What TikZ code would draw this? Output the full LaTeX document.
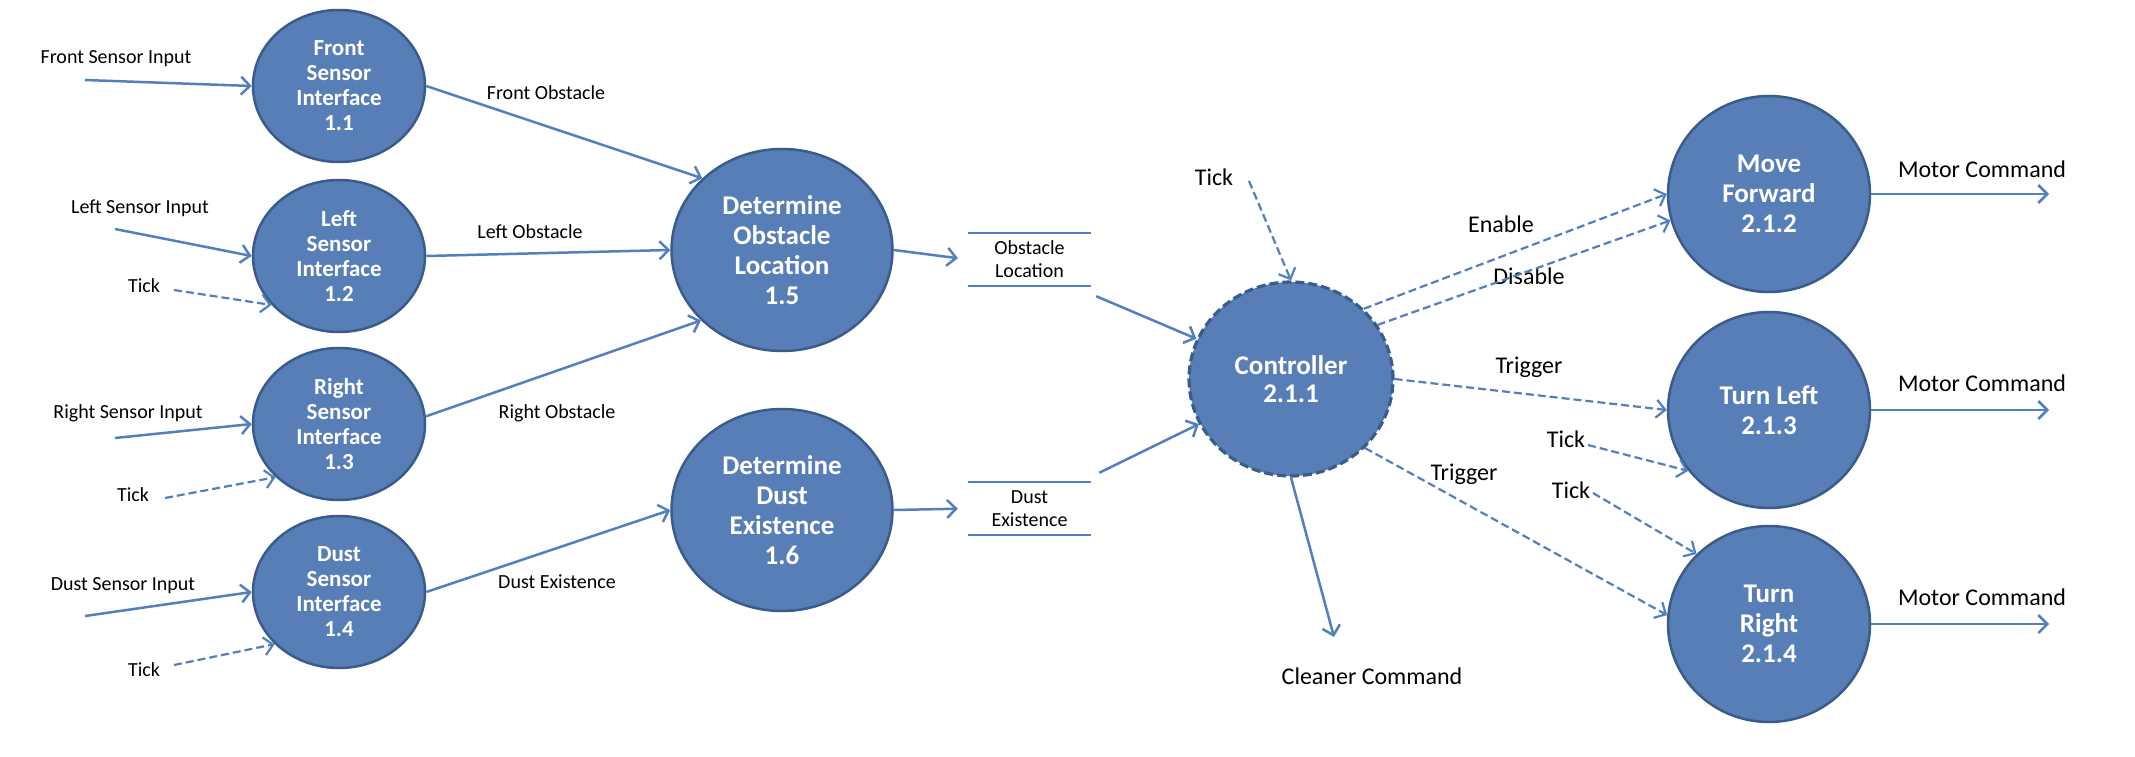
\documentclass[tikz,border=0pt]{standalone}
\usepackage{fontspec}
\setmainfont{Carlito}
\usetikzlibrary{arrows.meta,shapes.geometric}
\definecolor{nfill}{RGB}{88,126,184}
\definecolor{nborder}{RGB}{58,92,138}
\definecolor{lcol}{RGB}{82,128,190}
\begin{document}
\begin{tikzpicture}[x=1pt,y=-1pt,
 proc/.style={ellipse,draw=nborder,line width=2.5pt,fill=nfill,text=white,align=center,inner sep=0pt},
 smallp/.style={proc,minimum width=172pt,minimum height=152pt,font=\fontsize{23}{25}\selectfont\bfseries},
 bigp/.style={proc,minimum width=221pt,minimum height=202pt,font=\fontsize{27}{30}\selectfont\bfseries},
 circp/.style={proc,minimum width=202pt,minimum height=196pt,font=\fontsize{27}{30}\selectfont\bfseries},
 flow/.style={draw=lcol,line width=2.5pt,-{Straight Barb[length=9pt,width=18pt]}},
 dflow/.style={flow,line width=2.2pt,dash pattern=on 8pt off 4pt},
 lbl/.style={font=\fontsize{20}{23}\selectfont,inner sep=0pt},
 rlbl/.style={font=\fontsize{24}{27}\selectfont,inner sep=0pt},
 storebox/.style={minimum width=123pt,minimum height=53pt,inner sep=0pt,align=center,font=\fontsize{20}{23}\selectfont},
 storeline/.style={draw=lcol,line width=2.5pt}
]
\path[fill=white] (0,0) rectangle (2135,757);
\useasboundingbox (0,0) rectangle (2135,757);

% left processes
\node[smallp] (n11) at (339,86) {Front\\Sensor\\Interface\\1.1};
\node[smallp] (n12) at (339,256) {Left\\Sensor\\Interface\\1.2};
\node[smallp] (n13) at (339,424) {Right\\Sensor\\Interface\\1.3};
\node[smallp] (n14) at (339,592) {Dust\\Sensor\\Interface\\1.4};

\node[bigp] (n15) at (782,250) {Determine\\Obstacle\\Location\\1.5};
\node[bigp] (n16) at (782,510) {Determine\\Dust\\Existence\\1.6};

% data stores
\node[storebox] (s1) at (1029.5,259.5) {Obstacle\\Location};
\draw[storeline] (s1.north west) -- (s1.north east) (s1.south west) -- (s1.south east);
\node[storebox] (s2) at (1029.5,508.5) {Dust\\Existence};
\draw[storeline] (s2.north west) -- (s2.north east) (s2.south west) -- (s2.south east);

% controller and right processes
\node[proc,minimum width=204pt,minimum height=194pt,font=\fontsize{27}{28}\selectfont\bfseries,dash pattern=on 9pt off 4pt,line width=3.2pt] (ctrl) at (1291,379) {Controller\\2.1.1};
\node[circp] (mf) at (1769,194) {Move\\Forward\\2.1.2};
\node[circp] (tl) at (1769,410) {Turn Left\\2.1.3};
\node[circp] (tr) at (1769,624) {Turn\\Right\\2.1.4};

% free ends
\coordinate (fsi) at (85,80);
\coordinate (lsi) at (115,229);
\coordinate (rsi) at (115,438);
\coordinate (dsi) at (85,616);
\coordinate (t12) at (174,290);
\coordinate (t13) at (165,498);
\coordinate (t14) at (174,665);
\coordinate (tc) at (1249,181);
\coordinate (cc) at (1334,637);
\coordinate (ttl) at (1588,445);
\coordinate (ttr) at (1593,493);
\coordinate (m1) at (2049,194);
\coordinate (m2) at (2049,410);
\coordinate (m3) at (2049,624);

% labels
\node[lbl] (lfsi) at (116,59) {Front Sensor Input};
\node[lbl] (llsi) at (140,208) {Left Sensor Input};
\node[lbl] (lt12) at (144,286) {Tick};
\node[lbl] (lrsi) at (128,413) {Right Sensor Input};
\node[lbl] (lt13) at (133,495) {Tick};
\node[lbl] (ldsi) at (123,586) {Dust Sensor Input};
\node[lbl] (lt14) at (144,670) {Tick};
\node[lbl] (lfo) at (546,93) {Front Obstacle};
\node[lbl] (llo) at (530,232) {Left Obstacle};
\node[lbl] (lro) at (557,413) {Right Obstacle};
\node[lbl] (lde) at (557,582) {Dust Existence};
\node[rlbl] (ltc) at (1214,177) {Tick};
\node[rlbl] (len) at (1501,224) {Enable};
\node[rlbl] (ldis) at (1529,276) {Disable};
\node[rlbl] (ltr1) at (1529,367) {Trigger};
\node[rlbl] (lttl) at (1566,439) {Tick};
\node[rlbl] (ltr2) at (1464,474) {Trigger};
\node[rlbl] (lttr) at (1571,490) {Tick};
\node[rlbl] (lcc) at (1372,676) {Cleaner Command};
\node[rlbl] (lm1) at (1982,169) {Motor Command};
\node[rlbl] (lm2) at (1982,383) {Motor Command};
\node[rlbl] (lm3) at (1982,597) {Motor Command};

% connectors left
\draw[flow] (fsi) -- (n11.west);
\draw[flow] (lsi) -- (n12.west);
\draw[flow] (rsi) -- (n13.west);
\draw[flow] (dsi) -- (n14.west);
\draw[dflow] (t12) -- (n12.216);
\draw[dflow] (t13) -- (n13.220);
\draw[dflow] (t14) -- (n14.219);
\draw[flow] (n11.east) -- (n15.138);
\draw[flow] (n12.east) -- (n15.west);
\draw[flow] (n13.5) -- (n15.221);
\draw[flow] (n14.east) -- (n16.west);
\draw[flow,shorten >=10pt] (n15.east) -- (s1.west);
\draw[flow,shorten >=10pt] (n16.east) -- (s2.west);
\draw[flow] ([shift={(5,10)}]s1.south east) -- (ctrl);
\draw[flow] ([shift={(8,-9)}]s2.north east) -- (ctrl);

% connectors right
\draw[dflow] (tc) -- (ctrl.north);
\draw[flow] (ctrl.south) -- (cc);
\draw[dflow] (ctrl.44) -- (mf.west);
\draw[dflow] (ctrl.32) -- (mf.195);
\draw[dflow] (ctrl.east) -- (tl.west);
\draw[dflow] (ttl) -- (tl.217);
\draw[dflow] (ctrl.317) -- (tr.175);
\draw[dflow] (ttr) -- (tr.136);
\draw[flow] (mf.east) -- (m1);
\draw[flow] (tl.east) -- (m2);
\draw[flow] (tr.east) -- (m3);
\end{tikzpicture}
\end{document}
